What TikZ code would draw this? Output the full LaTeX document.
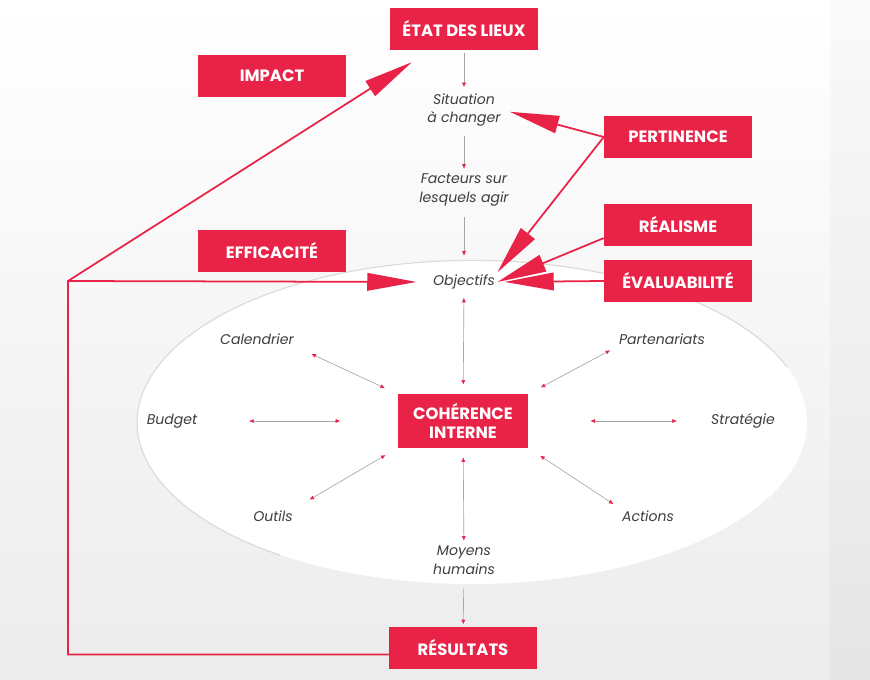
\documentclass[tikz,border=0pt]{standalone}
\usepackage{fontspec}
\setmainfont{Poppins}
\usepackage{tikz}
\usetikzlibrary{arrows.meta,positioning}
\definecolor{rouge}{RGB}{233,34,72}
\definecolor{texte}{RGB}{62,62,66}

\begin{document}
\begin{tikzpicture}[x=0.03cm,y=-0.03cm,
  boite/.style={fill=rouge,text=white,font=\bfseries\fontsize{14}{16}\selectfont,
    minimum width=4.44cm,minimum height=1.26cm,align=center,inner sep=2pt},
  etiq/.style={text=texte,font=\itshape\fontsize{12}{16}\selectfont,align=center,inner sep=2pt},
  fin/.style={draw=gray!70,line width=0.55pt,-{Latex[length=4pt,width=3.5pt,color=rouge]}},
  fin2/.style={fin,{Latex[length=4pt,width=3.5pt,color=rouge]}-{Latex[length=4pt,width=3.5pt,color=rouge]}},
  gros/.style={draw=rouge,line width=1.5pt,-{Triangle[length=42pt,width=15pt]}}]
  \useasboundingbox (0,0) rectangle (870,680);
  % fond
  \shade[top color=white,bottom color=gray!15] (0,0) rectangle (870,680);
  \shade[top color=gray!4,bottom color=gray!20] (830,0) rectangle (870,680);
  \fill[white] (472,422) ellipse [x radius=10.05cm,y radius=4.86cm];
  \draw[gray!28,line width=1pt] (787,367) arc[start angle=20,end angle=235,x radius=10.05cm,y radius=4.86cm];

  % boites
  \node[boite] (etat) at (464,29) {ÉTAT DES LIEUX};
  \node[boite] (impact) at (272,76) {IMPACT};
  \node[boite] (pertinence) at (678,137) {PERTINENCE};
  \node[boite] (realisme) at (678,225) {RÉALISME};
  \node[boite] (efficacite) at (272,251) {EFFICACITÉ};
  \node[boite] (evaluab) at (678,281) {ÉVALUABILITÉ};
  \node[boite,minimum width=3.9cm,minimum height=1.6cm] (coherence) at (463,421) {COHÉRENCE\\INTERNE};
  \node[boite] (resultats) at (463,648) {RÉSULTATS};

  % etiquettes
  \node[etiq] (situation) at (464,110) {Situation\\à changer};
  \node[etiq] (facteurs) at (464,190) {Facteurs sur\\lesquels agir};
  \node[etiq] (objectifs) at (464,282) {Objectifs};
  \node[etiq] (calendrier) at (257,339) {Calendrier};
  \node[etiq] (partenariats) at (662,339) {Partenariats};
  \node[etiq] (budget) at (172,421) {Budget};
  \node[etiq] (strategie) at (743,421) {Stratégie};
  \node[etiq] (outils) at (273,516) {Outils};
  \node[etiq] (actions) at (648,516) {Actions};
  \node[etiq] (moyens) at (464,560) {Moyens\\humains};

  % fleches fines
  \draw[fin,shorten <=2pt,shorten >=3pt] (etat) -- (situation);
  \draw[fin,shorten <=6pt,shorten >=2pt] (situation) -- (facteurs);
  \draw[fin,shorten <=7pt,shorten >=14pt] (facteurs) -- (objectifs);
  \draw[fin2,shorten <=5pt,shorten >=8pt] (objectifs) -- (coherence);
  \draw[fin2,shorten <=8pt,shorten >=2pt] (coherence) -- (moyens);
  \draw[fin,shorten <=10pt,shorten >=2pt] (moyens) -- (resultats);
  \draw[fin2,shorten <=14pt,shorten >=12pt] (calendrier.south east) -- (coherence.north west);
  \draw[fin2,shorten <=6pt,shorten >=12pt] (partenariats.south west) -- (coherence.north east);
  \draw[fin2,shorten <=14pt,shorten >=12pt] (outils.north east) -- (coherence.south west);
  \draw[fin2,shorten <=6pt,shorten >=12pt] (actions.north west) -- (coherence.south east);
  \draw[fin2,shorten <=42pt,shorten >=49pt] (budget) -- (coherence);
  \draw[fin2,shorten <=53pt,shorten >=27pt] (coherence) -- (strategie);

  % grosses fleches
  \draw[gros,shorten >=6pt] (pertinence.west) -- (situation.east);
  \draw[gros] (pertinence.west) -- (objectifs.north east);
  \draw[gros] (realisme.190) -- (objectifs.east);
  \draw[gros,shorten >=6pt] (evaluab.west) -- (objectifs.east);
  \coordinate (coin) at (68,281);
  \draw[gros,shorten >=12pt] (resultats.185) -| (coin) -- (objectifs.west);
  \draw[gros] (coin) -- ([shift={(22,12)}]etat.south west);
\end{tikzpicture}
\end{document}
